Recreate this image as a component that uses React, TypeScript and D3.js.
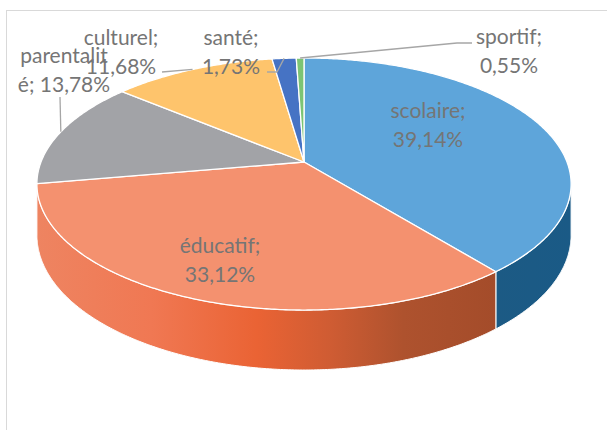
import React from 'react';
import * as d3 from 'd3';

const categories = ['scolaire', 'éducatif', 'parentalité', 'culturel', 'santé', 'sportif'];
const values = [39.14, 33.12, 13.78, 11.68, 1.73, 0.55];
const labelLines = [
  ['scolaire;', '39,14%'],
  ['éducatif;', '33,12%'],
  ['parentalit', 'é; 13,78%'],
  ['culturel;', '11,68%'],
  ['santé;', '1,73%'],
  ['sportif;', '0,55%'],
];
const topColors = ['#5EA5DA', '#F4916F', '#A2A3A7', '#FEC46C', '#4673C4', '#7CC474'];
const sideColors = ['#1C5B84', '#EC6537', '#7E7F82', '#D9A04C', '#2F5597', '#5A9A50'];

// label layout (text block centre x, first baseline y, leader line text-side points)
const labelLayout: { x: number; y: number; leader: [number, number][] | null }[] = [
  { x: 428, y: 118, leader: null },
  { x: 220, y: 253, leader: null },
  { x: 64, y: 63, leader: [[60, 97]] },
  { x: 121, y: 45, leader: [[162, 72]] },
  { x: 231, y: 45, leader: [[267, 72], [277, 72]] },
  { x: 509, y: 44, leader: [[472, 43], [457, 43]] },
];

const W = 607, H = 430;
const CX = 304, K = 263, A = 162, B = 93.9, C = -0.1746, D = 49.5;

function proj(theta: number, r: number, depth: number): [number, number] {
  const u = r * Math.sin(theta);
  const v = -r * Math.cos(theta);
  const den = 1 + C * v;
  return [CX + (K * u) / den, (A + B * v + depth * D) / den];
}

function arcPts(a0: number, a1: number, depth: number): [number, number][] {
  const n = Math.max(2, Math.ceil(Math.abs(a1 - a0) / (Math.PI / 360)));
  const pts: [number, number][] = [];
  for (let i = 0; i <= n; i++) pts.push(proj(a0 + ((a1 - a0) * i) / n, 1, depth));
  return pts;
}

const line = d3.line<[number, number]>();

export default function App() {
  const pie = d3.pie<number>().sort(null).startAngle(0).endAngle(2 * Math.PI);
  const arcs = pie(values);
  const thR = Math.acos(C);
  const thL = 2 * Math.PI - thR;

  const sides = arcs.map((a, i) => {
    const s = Math.max(a.startAngle, thR);
    const e = Math.min(a.endAngle, thL);
    if (e <= s) return null;
    const top = arcPts(s, e, 0);
    const bot = arcPts(e, s, 1);
    return { i, d: line([...top, ...bot])! + 'Z' };
  });

  const tops = arcs.map((a, i) => {
    const pts = [proj(0, 0, 0), ...arcPts(a.startAngle, a.endAngle, 0)];
    return line(pts)! + 'Z';
  });

  const font = 'Lato, "Open Sans", sans-serif';

  return (
    <svg width={W} height={H} style={{ position: 'absolute', left: 0, top: 0, background: '#fff' }}>
      <defs>
        <linearGradient id="g1" gradientUnits="userSpaceOnUse" x1={37} x2={495} y1={0} y2={0}>
          <stop offset="0" stopColor="#EE8461" />
          <stop offset="0.25" stopColor="#F07853" />
          <stop offset="0.48" stopColor="#EA6334" />
          <stop offset="0.64" stopColor="#CF5C33" />
          <stop offset="0.8" stopColor="#AE522E" />
          <stop offset="1" stopColor="#A44C2A" />
        </linearGradient>
        <linearGradient id="g0" gradientUnits="userSpaceOnUse" x1={494} x2={572} y1={0} y2={0}>
          <stop offset="0" stopColor="#1C5A84" />
          <stop offset="1" stopColor="#1A5A86" />
        </linearGradient>
      </defs>
      <rect x={6.5} y={10.5} width={700} height={500} fill="#fff" stroke="#D9D9D9" strokeWidth={1} />
      {sides.map((s) =>
        s ? (
          <path
            key={'s' + s.i}
            d={s.d}
            fill={s.i === 1 ? 'url(#g1)' : s.i === 0 ? 'url(#g0)' : sideColors[s.i]}
            stroke="#fff"
            strokeWidth={1}
            strokeLinejoin="round"
          />
        ) : null
      )}
      {tops.map((d, i) => (
        <path key={'t' + i} d={d} fill={topColors[i]} stroke="#fff" strokeWidth={1.3} strokeLinejoin="round" />
      ))}
      {arcs.map((a, i) => {
        const lay = labelLayout[i];
        if (!lay.leader) return null;
        const mid = (a.startAngle + a.endAngle) / 2;
        const p = proj(mid, 1, 0);
        return (
          <path
            key={'l' + i}
            d={line([...lay.leader, p])!}
            fill="none"
            stroke="#A6A6A6"
            strokeWidth={1.3}
          />
        );
      })}
      {categories.map((c, i) => {
        const lay = labelLayout[i];
        return (
          <text key={'x' + c} x={lay.x} y={lay.y} textAnchor="middle" fontFamily={font} fontSize={21} fill="#757575">
            <tspan x={lay.x}>{labelLines[i][0]}</tspan>
            <tspan x={lay.x} dy={28.5}>{labelLines[i][1]}</tspan>
          </text>
        );
      })}
    </svg>
  );
}
